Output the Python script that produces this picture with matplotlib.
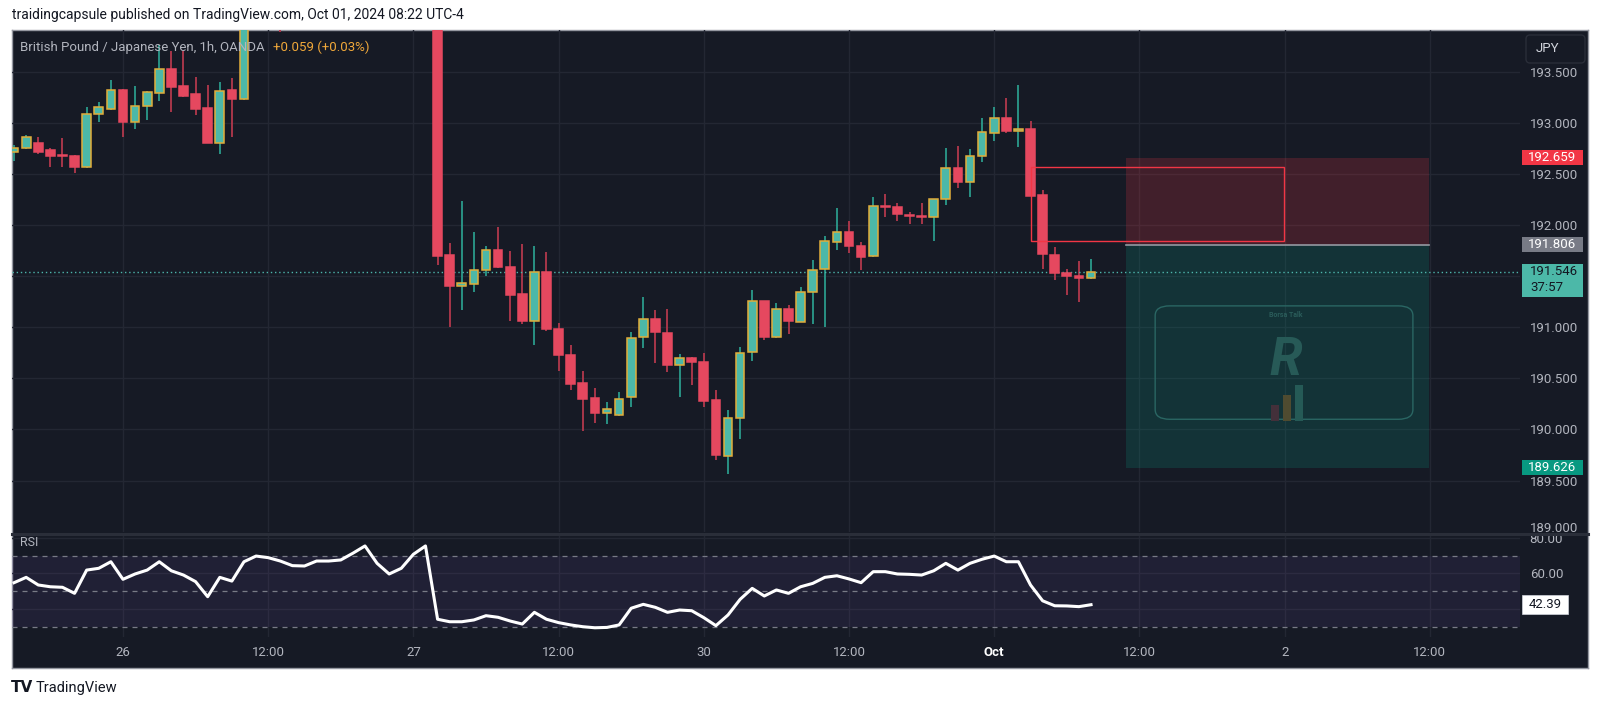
import matplotlib
matplotlib.use("Agg")
import matplotlib.pyplot as plt
from matplotlib.patches import Rectangle, FancyBboxPatch
from matplotlib.transforms import blended_transform_factory
import numpy as np

# GBPJPY 1h (OANDA), bar 0 = Sep 26 00:00 UTC-4, weekend gap collapsed
bar_idx = list(range(-9, 81))
opens = [192.718, 192.757, 192.806, 192.738, 192.685, 192.679, 192.571, 193.089, 193.138, 193.324,
         193.011, 193.168, 193.295, 193.529, 193.363, 193.285, 193.148, 192.806, 193.324, 193.236,
         194.18, 194.38, 194.30, 194.10, 194.25, 194.35, 194.62, 194.60, 194.78, 195.02,
         195.30, 195.05, 194.90, 195.20, 195.50, 195.70, 191.704, 191.40, 191.428, 191.558,
         191.76, 191.59, 191.33, 191.06, 191.54, 190.985, 190.727, 190.457, 190.31, 190.16,
         190.14, 190.32, 190.907, 191.083, 190.946, 190.63, 190.70, 190.66, 190.284, 189.74,
         190.114, 190.76, 191.255, 190.907, 191.18, 191.053, 191.347, 191.571, 191.833, 191.936,
         191.80, 191.695, 192.19, 192.18, 192.102, 192.092, 192.08, 192.256, 192.559, 192.418,
         192.678, 192.907, 193.047, 192.92, 192.94, 192.298, 191.71, 191.532, 191.506, 191.487]
highs = [192.786, 192.884, 192.865, 192.757, 192.855, 192.690, 193.158, 193.207, 193.422, 193.330,
         193.363, 193.314, 193.764, 193.705, 193.705, 193.451, 193.373, 193.402, 193.441, 194.25,
         194.45, 194.55, 194.40, 194.35, 194.40, 194.70, 194.80, 194.85, 195.10, 195.40,
         195.35, 195.15, 195.30, 195.60, 195.80, 195.85, 191.83, 192.232, 191.933, 191.80,
         191.98, 191.744, 191.82, 191.80, 191.734, 191.04, 190.83, 190.57, 190.41, 190.27,
         190.37, 190.956, 191.298, 191.173, 191.18, 190.74, 190.71, 190.75, 190.39, 190.19,
         190.81, 191.37, 191.26, 191.24, 191.22, 191.39, 191.655, 191.897, 192.167, 192.037,
         191.84, 192.28, 192.31, 192.217, 192.13, 192.217, 192.26, 192.754, 192.777, 192.744,
         193.053, 193.16, 193.243, 193.373, 193.02, 192.347, 191.79, 191.574, 191.65, 191.67]
lows = [192.630, 192.750, 192.698, 192.571, 192.571, 192.513, 192.562, 193.011, 193.130, 192.865,
        192.943, 193.031, 193.217, 193.109, 193.256, 193.080, 192.800, 192.698, 192.865, 193.226,
        194.05, 194.20, 193.89, 194.00, 194.10, 194.30, 194.50, 194.55, 194.70, 194.95,
        194.95, 194.80, 194.85, 195.10, 195.40, 191.614, 191.007, 191.167, 191.343, 191.50,
        191.58, 191.06, 191.03, 190.83, 190.96, 190.57, 190.385, 189.99, 190.066, 190.05,
        190.13, 190.22, 190.80, 190.652, 190.565, 190.32, 190.44, 190.22, 189.70, 189.56,
        189.91, 190.675, 190.874, 190.90, 190.93, 191.05, 191.037, 191.00, 191.76, 191.728,
        191.557, 191.69, 192.08, 192.037, 192.014, 192.014, 191.85, 192.20, 192.363, 192.28,
        192.623, 192.82, 192.90, 192.77, 192.29, 191.574, 191.46, 191.32, 191.245, 191.47]
closes = [192.757, 192.865, 192.718, 192.679, 192.679, 192.571, 193.089, 193.158, 193.324, 193.011,
          193.168, 193.304, 193.529, 193.353, 193.265, 193.138, 192.806, 193.314, 193.236, 194.18,
          194.38, 194.30, 194.10, 194.25, 194.35, 194.62, 194.60, 194.78, 195.02, 195.30,
          195.05, 194.90, 195.20, 195.50, 195.70, 191.70, 191.408, 191.43, 191.558, 191.76,
          191.59, 191.32, 191.06, 191.54, 190.985, 190.727, 190.45, 190.30, 190.157, 190.196,
          190.30, 190.897, 191.083, 190.952, 190.629, 190.70, 190.66, 190.277, 189.746, 190.114,
          190.75, 191.255, 190.907, 191.18, 191.06, 191.343, 191.565, 191.848, 191.936, 191.80,
          191.685, 192.19, 192.18, 192.11, 192.086, 192.08, 192.26, 192.559, 192.422, 192.678,
          192.91, 193.047, 192.923, 192.94, 192.29, 191.72, 191.532, 191.50, 191.487, 191.546]
rsi = [54.8, 57.8, 53.5, 52.5, 52.2, 48.8, 61.9, 62.9, 66.6, 56.7,
       59.7, 61.9, 66.6, 61.5, 59.1, 55.4, 46.9, 57.8, 55.7, 66.6,
       69.8, 68.9, 67.0, 64.4, 64.2, 67.0, 67.0, 67.6, 71.4, 75.5,
       65.7, 59.7, 62.9, 70.8, 75.5, 34.2, 32.8, 32.8, 33.8, 36.2,
       35.3, 33.2, 31.5, 38.1, 34.2, 32.3, 31.0, 30.0, 29.4, 29.6,
       31.0, 40.4, 42.6, 40.9, 38.1, 39.4, 39.0, 35.1, 30.6, 36.6,
       45.4, 51.6, 47.3, 50.7, 48.8, 52.5, 54.4, 57.8, 58.7, 56.9,
       54.8, 61.0, 61.0, 59.7, 59.5, 59.1, 61.5, 65.7, 61.9, 65.7,
       68.0, 69.8, 66.6, 66.6, 53.5, 44.6, 41.8, 41.7, 41.3, 42.39]

time_ticks = [0, 12, 24, 36, 48, 60, 72, 84, 96, 108]
time_labels = ["26", "12:00", "27", "12:00", "30", "12:00", "Oct", "12:00", "2", "12:00"]
price_ticks = [189.5, 190.0, 190.5, 191.0, 191.5, 192.0, 192.5, 193.0, 193.5]
price_tick_labels = ["189.500", "190.000", "190.500", "191.000", "", "192.000", "192.500",
                     "193.000", "193.500"]
rsi_ticks = [80, 60, 40]
rsi_tick_labels = ["80.00", "60.00", ""]

# short position tool + zone drawn by the author
entry, stop, target = 191.806, 192.659, 189.626
pos_start, pos_end = 82.9, 107.9
zone_left, zone_right, zone_top, zone_bottom = 75.0, 95.95, 192.565, 191.841

W, H = 1600, 707
BG = "#161a25"
GRID = "#232733"
TXT = "#b2b5be"
GREEN = "#4cb8a8"
GREEN_EDGE = "#e2ae3a"
GREEN_WICK = "#2b9b8c"
RED = "#e5485f"
RED_WICK = "#b3384c"

plt.rcParams["font.family"] = ["Roboto", "DejaVu Sans"]


def box(x0, y0, x1, y1):
    return [x0 / W, 1 - y1 / H, (x1 - x0) / W, (y1 - y0) / H]


fig = plt.figure(figsize=(W / 100, H / 100), dpi=100, facecolor="white")

# dark frame of the chart
frame = fig.add_axes(box(12, 30, 1588, 668))
frame.set_facecolor(BG)
frame.set_xticks([])
frame.set_yticks([])
for s in frame.spines.values():
    s.set_color("#9598a1")
    s.set_linewidth(1)

# ---- price pane ----
ax = fig.add_axes(box(12, 30, 1520, 532))
ax.set_facecolor("none")
xmin, xmax = -9.17, 115.45
ax.set_xlim(xmin, xmax)
ax.set_ylim(188.9966, 193.9106)
for s in ax.spines.values():
    s.set_visible(False)
ax.set_xticks(time_ticks)
ax.tick_params(axis="x", length=0, labelbottom=False)
ax.yaxis.tick_right()
ax.set_yticks(price_ticks)
ax.set_yticklabels(price_tick_labels)
ax.tick_params(axis="y", length=0, pad=7, labelsize=9.5, labelcolor=TXT)
ax.grid(True, color=GRID, lw=1)
ax.set_axisbelow(True)

x = np.array(bar_idx, dtype=float)
o, h, l, c = map(np.array, (opens, highs, lows, closes))
up = c >= o
ax.vlines(x, l, h, colors=np.where(up, GREEN_WICK, RED_WICK), lw=1.3, zorder=2)
ax.bar(x, np.maximum(np.abs(c - o), 0.012), bottom=np.minimum(o, c), width=0.72,
       color=np.where(up, GREEN, RED), edgecolor=np.where(up, GREEN_EDGE, RED),
       linewidth=1.1, zorder=3)

# position tool
ax.add_patch(Rectangle((pos_start, entry), pos_end - pos_start, stop - entry,
                       facecolor="#f23645", alpha=0.2, lw=0, zorder=1))
ax.add_patch(Rectangle((pos_start, target), pos_end - pos_start, entry - target,
                       facecolor="#089981", alpha=0.2, lw=0, zorder=1))
ax.plot([pos_start, pos_end], [entry, entry], color="#9598a1", lw=1.2, zorder=2)
ax.add_patch(Rectangle((zone_left, zone_bottom), zone_right - zone_left, zone_top - zone_bottom,
                       facecolor="none", edgecolor="#f23645", lw=1, zorder=4))

# watermark logo inside the target zone
ax.add_patch(FancyBboxPatch((85.3, 190.10), 21.3, 1.11, boxstyle="round,pad=0,rounding_size=1.2",
                            mutation_aspect=0.08, facecolor="none", edgecolor="#2a6663", lw=1, zorder=2))
ax.text(96.1, 191.12, "Borsa Talk", color="#2a5c5a", fontsize=5, ha="center", va="center",
        fontweight="bold", zorder=2)
ax.text(96.1, 190.68, "R", color="#275a57", fontsize=38, fontweight="bold", ha="center",
        va="center", style="italic", zorder=2)
ax.bar([95.2, 96.2, 97.2], [0.16, 0.26, 0.36], bottom=190.08, width=0.7,
       color=["#43303a", "#4f4b30", "#255a56"], zorder=2)

# current price line
ax.axhline(closes[-1], color="#4db6ac", ls=(0, (1, 2)), lw=1, zorder=2)

# ---- RSI pane ----
ax2 = fig.add_axes(box(12, 535, 1520, 637))
ax2.set_facecolor("none")
ax2.set_xlim(xmin, xmax)
ax2.set_ylim(24.2, 81.66)
for s in ax2.spines.values():
    s.set_visible(False)
ax2.set_xticks(time_ticks)
ax2.tick_params(axis="x", length=0, labelbottom=False)
ax2.yaxis.tick_right()
ax2.set_yticks(rsi_ticks)
ax2.set_yticklabels(rsi_tick_labels)
ax2.tick_params(axis="y", length=0, pad=7, labelsize=9.5, labelcolor=TXT)
ax2.grid(True, color=GRID, lw=1)
ax2.set_axisbelow(True)
ax2.axhspan(30, 70, color="#7e57c2", alpha=0.1, lw=0)
for lvl in (70, 50, 30):
    ax2.axhline(lvl, color="#787b86", ls=(0, (4, 4)), lw=0.9)
ax2.plot(x, rsi, color="white", lw=2.2, solid_joinstyle="round")

# ---- overlay: labels, header, footer ----
ov = fig.add_axes([0, 0, 1, 1], zorder=10)
ov.set_xlim(0, W)
ov.set_ylim(H, 0)
ov.axis("off")
ov.plot([12, 1588], [533.5, 533.5], color="#2a2e39", lw=2.2)

tx = blended_transform_factory(ax2.transData, ov.transData)
for t, lab in zip(time_ticks, time_labels):
    ov.text(t, 653, lab, transform=tx, ha="center", va="center", fontsize=9.5,
            color="white" if lab == "Oct" else TXT, fontweight="bold" if lab == "Oct" else "normal")

tp = blended_transform_factory(ov.transData, ax.transData)
px = 1.0 / 102.3
for price, fc, tc in [(stop, "#f23645", "white"), (entry, "#787b86", "white"),
                      (target, "#089981", "white")]:
    ov.add_patch(Rectangle((1522, price - 7.5 * px), 61, 15.5 * px, facecolor=fc, lw=0, transform=tp))
    ov.text(1552.5, price, f"{price:.3f}", transform=tp, ha="center", va="center",
            fontsize=9.5, color=tc)
cur = closes[-1]
ov.add_patch(Rectangle((1522, cur - 25 * px), 61, 33 * px, facecolor="#4cb8a8", lw=0, transform=tp))
ov.text(1530, cur, f"{cur:.3f}", transform=tp, ha="left", va="center", fontsize=9.5, color="#131722")
ov.text(1530, cur - 16 * px, "37:57", transform=tp, ha="left", va="center", fontsize=9.5, color="#131722")
ov.text(1530, 189.03, "189.000", transform=tp, ha="left", va="center", fontsize=9.5, color=TXT)

tr = blended_transform_factory(ov.transData, ax2.transData)
ov.add_patch(Rectangle((1522, rsi[-1] - 5.5), 46, 11, facecolor="white", edgecolor="#d1d4dc",
                       lw=0.5, transform=tr))
ov.text(1545, rsi[-1], f"{rsi[-1]:.2f}", transform=tr, ha="center", va="center",
        fontsize=9.5, color="#131722")

ov.add_patch(FancyBboxPatch((1526, 35), 59, 28, boxstyle="round,pad=0,rounding_size=4",
                            facecolor=BG, edgecolor="#2a2e39", lw=1))
ov.text(1536, 49, "JPY", ha="left", va="center", fontsize=9.5, color="#d1d4dc")

ov.text(12, 15, "traidingcapsule published on TradingView.com, Oct 01, 2024 08:22 UTC-4",
        ha="left", va="center", fontsize=10, color="#131722")
ov.text(20, 47, "British Pound / Japanese Yen, 1h, OANDA", ha="left", va="center",
        fontsize=9.5, color=TXT)
ov.text(273, 47, "+0.059 (+0.03%)", ha="left", va="center", fontsize=9.5, color="#f0a83a")
ov.text(20, 543, "RSI", ha="left", va="center", fontsize=9, color=TXT)

ov.text(11, 688, "TV", ha="left", va="center", fontsize=11, fontweight="black",
        color="#131722", family="DejaVu Sans")
ov.text(36, 688, "TradingView", ha="left", va="center", fontsize=10.5, color="#131722")

fig.savefig("out.png", dpi=100, facecolor="white")
